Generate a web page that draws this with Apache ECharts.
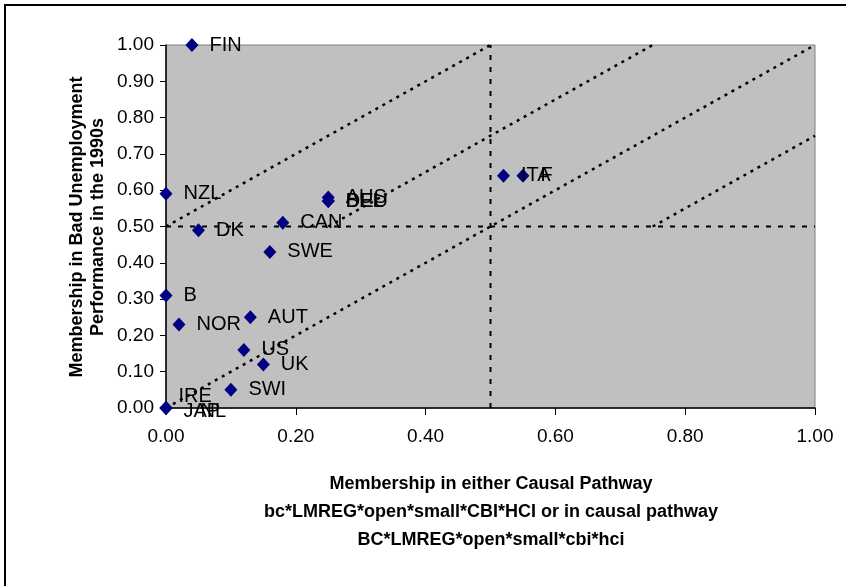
<!DOCTYPE html>
<html>
<head>
<meta charset="utf-8">
<script src="https://cdn.jsdelivr.net/npm/echarts@6/dist/echarts.min.js"></script>
<style>
html,body{margin:0;padding:0;background:#fff;}
#chart{width:846px;height:586px;}
</style>
</head>
<body>
<div id="chart"></div>
<script>
// ---- data ----
const countries = ['FIN','NZL','DK','CAN','AUS','BEL','DEU','SWE','ITA','F','B','NOR','AUT','US','UK','SWI','IRE','JAP','NL'];
const pathwayMembership = [0.04,0.00,0.05,0.18,0.25,0.25,0.25,0.16,0.52,0.55,0.00,0.02,0.13,0.12,0.15,0.10,0.00,0.00,0.00];
const badUnemployment   = [1.00,0.59,0.49,0.51,0.58,0.57,0.57,0.43,0.64,0.64,0.31,0.23,0.25,0.16,0.12,0.05,0.00,0.00,0.00];

// reference lines (data-space endpoints)
const diagTopX = [0.00, 0.50], diagTopY = [0.50, 1.00];
const diagUpperX = [0.25, 0.75], diagUpperY = [0.50, 1.00];
const diagMainX = [0.00, 1.00], diagMainY = [0.00, 1.00];
const diagLowerX = [0.75, 1.00], diagLowerY = [0.50, 0.75];
const hThresholdX = [0.00, 1.00], hThresholdY = [0.50, 0.50];
const vThresholdX = [0.50, 0.50], vThresholdY = [0.00, 1.00];

const yTitle = ['Membership in Bad Unemployment', 'Performance in the 1990s'];
const xTitle = ['Membership in either Causal Pathway', 'bc*LMREG*open*small*CBI*HCI or in causal pathway', 'BC*LMREG*open*small*cbi*hci'];

// label tweaks for overlapping names (style only)
const labelShift = { IRE: [-5, -12], JAP: [0, 3], NL: [17, 3] };

const FONT = '"Liberation Sans", Arial, sans-serif';

function pairs(xs, ys){ return xs.map((x,i)=>[x, ys[i]]); }

const scatterData = countries.map((c,i)=>{
  const d = { name: c, value: [pathwayMembership[i], badUnemployment[i]] };
  if (labelShift[c]) d.label = { offset: labelShift[c] };
  return d;
});

const diagStyle = { color:'#000', width:2.5, type:[3,5], opacity:1 };
const threshStyle = { color:'#000', width:2, type:[5,7], opacity:1 };
function refLine(xs, ys, style){
  return { type:'line', data: pairs(xs, ys), symbol:'none', silent:true, z:1,
           lineStyle: style, animation:false };
}

const chart = echarts.init(document.getElementById('chart'), null, {renderer:'canvas'});
chart.setOption({
  backgroundColor:'#fff',
  animation:false,
  grid:{ left:166, right:31, top:45, bottom:178, show:true, backgroundColor:'#C0C0C0', borderColor:'#808080', borderWidth:1 },
  xAxis:{
    type:'value', min:0, max:1, interval:0.2,
    axisLine:{ show:true, onZero:false, lineStyle:{ color:'#000', width:1.5 } },
    axisTick:{ show:true, length:7, lineStyle:{ color:'#000' } },
    splitLine:{ show:false },
    axisLabel:{ formatter: v=>v.toFixed(2), color:'#000', fontSize:19, fontFamily:FONT, margin:19 }
  },
  yAxis:{
    type:'value', min:0, max:1, interval:0.1,
    axisLine:{ show:true, onZero:false, lineStyle:{ color:'#000', width:1.5 } },
    axisTick:{ show:true, length:6, lineStyle:{ color:'#000' } },
    splitLine:{ show:false },
    axisLabel:{ formatter: v=>v.toFixed(2), color:'#000', fontSize:19, fontFamily:FONT, margin:12 }
  },
  series:[
    refLine(diagTopX, diagTopY, diagStyle),
    refLine(diagUpperX, diagUpperY, diagStyle),
    refLine(diagMainX, diagMainY, diagStyle),
    refLine(diagLowerX, diagLowerY, diagStyle),
    refLine(hThresholdX, hThresholdY, threshStyle),
    refLine(vThresholdX, vThresholdY, threshStyle),
    {
      type:'scatter', z:5, symbol:'diamond', symbolSize:[13,14],
      itemStyle:{ color:'#000080', opacity:1 },
      label:{ show:true, position:'right', distance:11, formatter:'{b}', color:'#000', fontSize:20, fontFamily:FONT },
      data: scatterData
    }
  ],
  graphic:[
    { type:'rect', shape:{ x:5, y:5, width:900, height:700 }, style:{ fill:'none', stroke:'#000', lineWidth:2 }, silent:true },
    { type:'text', x:88, y:227, rotation:Math.PI/2,
      style:{ text: yTitle.join('\n'), font:'bold 18px '+FONT, fill:'#000', textAlign:'center', textVerticalAlign:'middle', lineHeight:21 } },
    { type:'text', x:491, y:512,
      style:{ text: xTitle.join('\n'), font:'bold 18px '+FONT, fill:'#000', textAlign:'center', textVerticalAlign:'middle', lineHeight:28 } }
  ]
});
</script>
</body>
</html>
